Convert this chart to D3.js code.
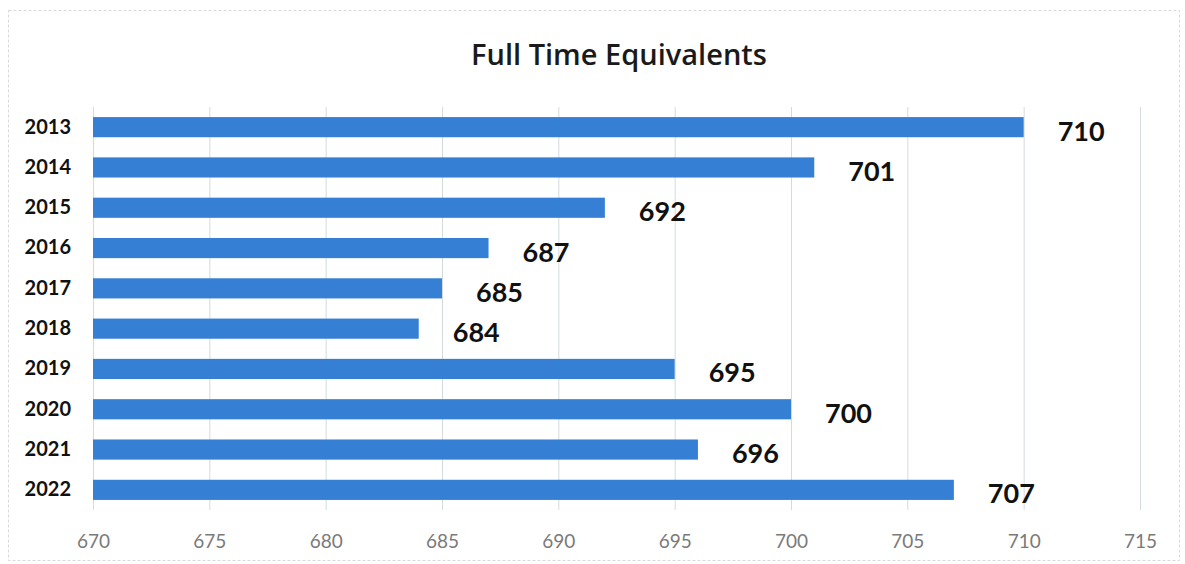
<!DOCTYPE html>
<html>
<head>
<meta charset="utf-8">
<script src="https://cdn.jsdelivr.net/npm/d3@7"></script>
<style>
  html, body { margin: 0; padding: 0; background: #fff; }
  svg { display: block; }
</style>
</head>
<body>
<svg id="chart" width="1185" height="564"></svg>
<script>
// Full time equivalents by year
const years = ["2013", "2014", "2015", "2016", "2017", "2018", "2019", "2020", "2021", "2022"];
const fte = [710, 701, 692, 687, 685, 684, 695, 700, 696, 707];
const xTicks = [670, 675, 680, 685, 690, 695, 700, 705, 710, 715];
const chartTitle = "Full Time Equivalents";

const W = 1185, H = 564;
const svg = d3.select("#chart");

// outer frame
svg.append("rect")
  .attr("x", 8.5).attr("y", 10.5)
  .attr("width", W - 14).attr("height", H - 14)
  .attr("fill", "none")
  .attr("stroke", "#d6dadc")
  .attr("stroke-dasharray", "3,2")
  .attr("stroke-width", 1);

const plot = { left: 93, right: 1140, top: 107, bottom: 510 };

const x = d3.scaleLinear()
  .domain([670, 715])
  .range([plot.left, plot.right]);

const y = d3.scaleBand()
  .domain(years)
  .range([plot.top, plot.bottom])
  .paddingInner(0.5)
  .paddingOuter(0.25);

// title
svg.append("text")
  .attr("x", 619)
  .attr("y", 65)
  .attr("text-anchor", "middle")
  .attr("font-family", "'Open Sans', Lato, sans-serif")
  .attr("font-size", 29)
  .attr("font-weight", 600)
  .attr("fill", "#1a1a1a")
  .text(chartTitle);

// vertical gridlines
svg.append("g")
  .selectAll("line")
  .data(xTicks)
  .join("line")
  .attr("x1", d => x(d) + 0.5)
  .attr("x2", d => x(d) + 0.5)
  .attr("y1", plot.top)
  .attr("y2", plot.bottom)
  .attr("stroke", "#d3dbdf")
  .attr("stroke-width", 1);

// x axis tick labels
const xAxis = d3.axisBottom(x)
  .tickValues(xTicks)
  .tickSize(0)
  .tickPadding(0)
  .tickFormat(d3.format("d"));

const gx = svg.append("g")
  .attr("transform", `translate(0, ${plot.bottom + 38})`)
  .call(xAxis);
gx.select(".domain").remove();
gx.selectAll("text")
  .attr("font-family", "Lato, 'Open Sans', sans-serif")
  .attr("font-size", 19)
  .attr("fill", "#7a7a7a")
  .attr("dy", 0);

// y axis year labels
const yAxis = d3.axisLeft(y).tickSize(0).tickPadding(22);
const gy = svg.append("g")
  .attr("transform", `translate(${plot.left}, 0)`)
  .call(yAxis);
gy.select(".domain").remove();
gy.selectAll("text")
  .attr("font-family", "Lato, 'Open Sans', sans-serif")
  .attr("font-size", 20)
  .attr("font-weight", 700)
  .attr("fill", "#111");

// bars
const rows = years.map((yr, i) => ({ year: yr, value: fte[i] }));

svg.append("g")
  .selectAll("rect")
  .data(rows)
  .join("rect")
  .attr("x", x(670))
  .attr("y", d => y(d.year))
  .attr("width", d => x(d.value) - x(670))
  .attr("height", y.bandwidth())
  .attr("fill", "#3580d4");

// value labels
svg.append("g")
  .selectAll("text")
  .data(rows)
  .join("text")
  .attr("x", d => x(d.value) + 34)
  .attr("y", d => y(d.year) + y.bandwidth() / 2 + 4)
  .attr("dy", "0.35em")
  .attr("font-family", "Lato, 'Open Sans', sans-serif")
  .attr("font-size", 27)
  .attr("font-weight", 700)
  .attr("fill", "#111")
  .text(d => d.value);
</script>
</body>
</html>
